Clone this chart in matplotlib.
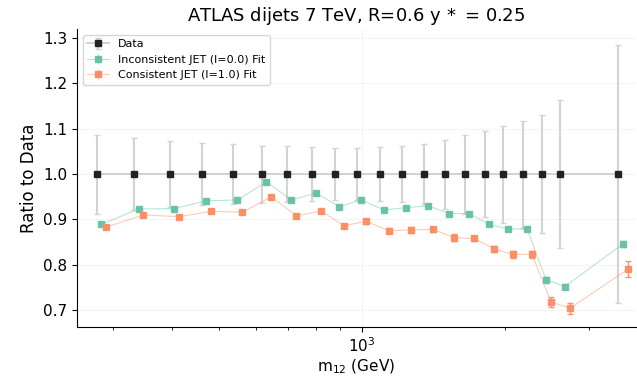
import numpy as np
import matplotlib
matplotlib.use("Agg")
import matplotlib.pyplot as plt
from matplotlib.colors import to_rgba
from matplotlib.ticker import NullFormatter

# dijet mass bin centres (GeV) and ratios
m12 = [277, 332, 395, 461, 536, 617, 696, 785, 878, 976, 1091,
       1214, 1350, 1494, 1646, 1813, 1987, 2179, 2389, 2618, 3467]
data_err = [0.087, 0.079, 0.073, 0.069, 0.067, 0.063, 0.061, 0.059, 0.057, 0.057, 0.059,
            0.061, 0.067, 0.076, 0.087, 0.094, 0.107, 0.118, 0.130, 0.163, 0.285]
incons = [0.889, 0.923, 0.924, 0.941, 0.943, 0.983, 0.943, 0.958, 0.928, 0.943, 0.921,
          0.926, 0.930, 0.913, 0.913, 0.889, 0.879, 0.879, 0.767, 0.752, 0.846]
incons_err = [0.003, 0.003, 0.003, 0.003, 0.003, 0.003, 0.003, 0.003, 0.003, 0.003, 0.003,
              0.003, 0.003, 0.003, 0.003, 0.004, 0.004, 0.004, 0.005, 0.005, 0.006]
cons = [0.883, 0.910, 0.906, 0.918, 0.916, 0.950, 0.908, 0.918, 0.886, 0.896, 0.875,
        0.877, 0.878, 0.860, 0.858, 0.835, 0.823, 0.823, 0.718, 0.704, 0.790]
cons_err = [0.004, 0.004, 0.004, 0.004, 0.004, 0.004, 0.004, 0.004, 0.005, 0.005, 0.005,
            0.006, 0.006, 0.007, 0.006, 0.007, 0.008, 0.008, 0.011, 0.012, 0.018]

m12 = np.array(m12)
ones = np.ones(len(m12))

fig = plt.figure(figsize=(6.37, 3.77), dpi=100)
ax = fig.add_axes([0.121, 0.133, 0.877, 0.79])

# data: black squares, grey bars and grey connecting line
eb = ax.errorbar(m12, ones, yerr=data_err, fmt='s', color='#222222',
                 ecolor='#d3d3d3', elinewidth=1.5, capsize=2.5, markersize=5,
                 ls='-', label='Data', zorder=2)
eb.lines[0].set_color('#d3d3d3')
eb.lines[0].set_markerfacecolor('#222222')
eb.lines[0].set_markeredgecolor('#222222')

fits = [(m12 * 1.022, incons, incons_err, '#66c2a5', 'Inconsistent JET (l=0.0) Fit'),
        (m12 * 1.047, cons, cons_err, '#fc8d62', 'Consistent JET (l=1.0) Fit')]
for x, y, e, col, lab in fits:
    pale = to_rgba(col, 0.45)
    ax.plot(x, y, '-', color=pale, lw=0.8, zorder=3)
    ax.errorbar(x, y, yerr=e, fmt='s', color=col, markersize=5, capsize=2,
                elinewidth=1, ecolor=to_rgba(col, 0.6), alpha=0.95, zorder=4)
    h = ax.errorbar([], [], yerr=[], fmt='s-', color=pale, markersize=5, lw=0.8,
                    ecolor=pale, label=lab)
    h.lines[0].set_markerfacecolor(col)
    h.lines[0].set_markeredgecolor(col)

ax.set_xscale('log')
ax.set_xlim(252, 3770)
ax.set_ylim(0.663, 1.32)
ax.set_yticks([0.7, 0.8, 0.9, 1.0, 1.1, 1.2, 1.3])
ax.xaxis.set_minor_formatter(NullFormatter())
ax.tick_params(labelsize=11)
ax.grid(True, color='#f4f4f4', lw=0.8)
ax.set_axisbelow(True)
ax.spines['top'].set_visible(False)
ax.spines['right'].set_visible(False)

ax.set_xlabel('m$_{12}$ (GeV)', fontsize=11, labelpad=2)
ax.set_ylabel('Ratio to Data', fontsize=12)
ax.set_title('ATLAS dijets 7 TeV, R=0.6 y$\\,*$ = 0.25', fontsize=13)
ax.legend(loc='upper left', fontsize=8)

fig.savefig('out.png', dpi=100)
